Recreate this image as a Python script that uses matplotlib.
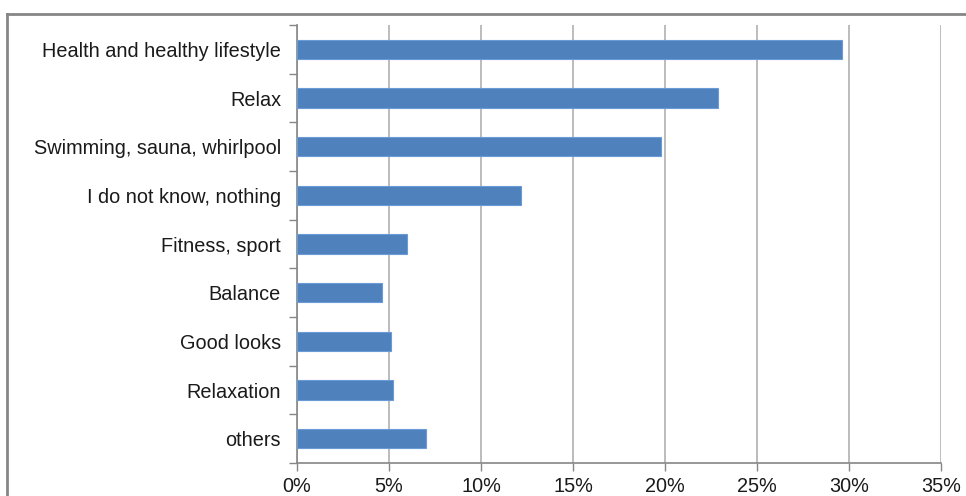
import matplotlib
matplotlib.use("Agg")
import matplotlib.pyplot as plt
from matplotlib.lines import Line2D
from matplotlib.ticker import FuncFormatter, FixedLocator

categories = ["Health and healthy lifestyle", "Relax", "Swimming, sauna, whirlpool",
              "I do not know, nothing", "Fitness, sport", "Balance", "Good looks",
              "Relaxation", "others"]
values = [29.6, 22.9, 19.8, 12.2, 6.0, 4.6, 5.1, 5.2, 7.0]
xticks = [0, 5, 10, 15, 20, 25, 30, 35]

plt.rcParams['font.family'] = ['Liberation Sans', 'DejaVu Sans']

fig = plt.figure(figsize=(9.66, 4.96), dpi=100)
ax = fig.add_axes([297/966, 1-463/496, (941-297)/966, (463-25)/496])

n = len(categories)
ypos = list(range(n))
ax.barh(ypos, values, height=0.4, color="#4f81bd", edgecolor="#6a9bd8", linewidth=0.8, zorder=3)
ax.set_ylim(n - 0.5, -0.5)
ax.set_xlim(0, 35)
ax.set_yticks(ypos)
ax.set_yticklabels(categories, fontsize=14.3, color="#1a1a1a")
ax.yaxis.set_minor_locator(FixedLocator([i - 0.5 for i in range(n + 1)]))
ax.tick_params(axis='y', which='major', length=0, pad=11.5)
ax.tick_params(axis='y', which='minor', length=6, color="#868686", width=1)
ax.set_xticks(xticks)
ax.xaxis.set_major_formatter(FuncFormatter(lambda v, p: f"{int(v)}%"))
ax.tick_params(axis='x', length=6, color="#868686", width=1, labelsize=14.3, labelcolor="#1a1a1a", pad=4)
ax.grid(axis='x', color="#b0b0b0", linewidth=1.2, zorder=0)
for s in ['top', 'right']:
    ax.spines[s].set_visible(False)
for s in ['left', 'bottom']:
    ax.spines[s].set_color("#868686")
    ax.spines[s].set_linewidth(1.2)

# outer frame
fig.add_artist(Line2D([7/966, 1.01], [1-14/496, 1-14/496], transform=fig.transFigure, color="#868686", linewidth=2))
fig.add_artist(Line2D([7/966, 7/966], [-0.01, 1-14/496], transform=fig.transFigure, color="#868686", linewidth=2))

fig.savefig("out.png", dpi=100)
